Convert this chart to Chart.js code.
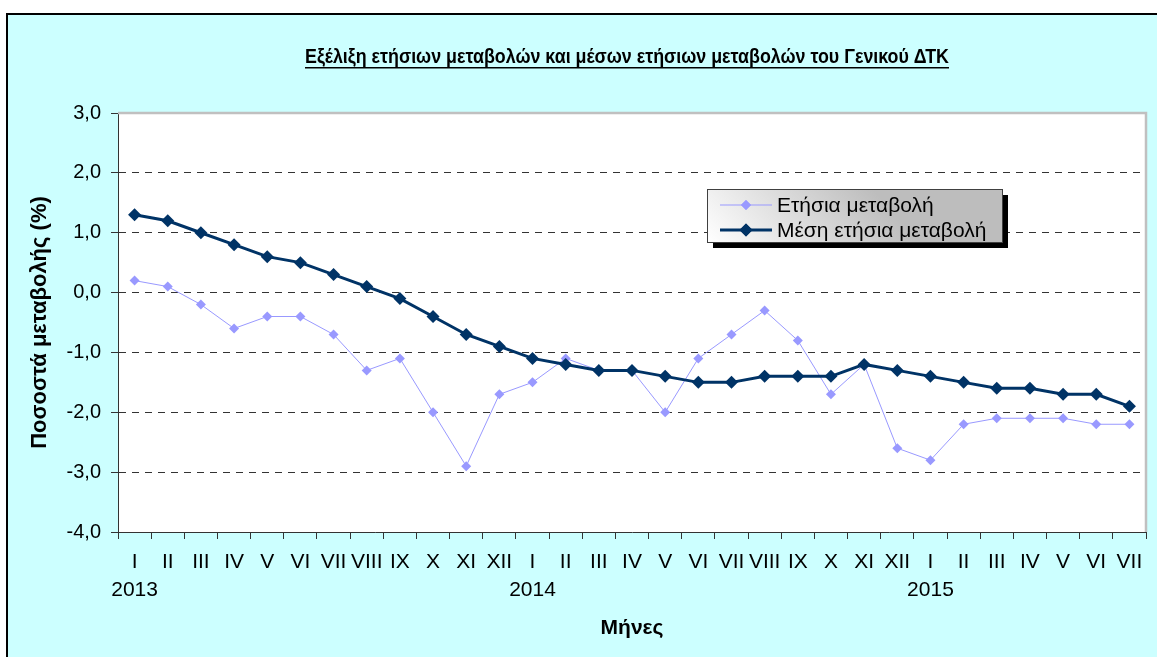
<!DOCTYPE html>
<html>
<head>
<meta charset="utf-8">
<title>ΔΤΚ</title>
<script src="https://cdn.jsdelivr.net/npm/chart.js@4.4.1/dist/chart.umd.min.js"></script>
<style>
  body { margin: 0; background: #fff; }
  #frame { position: absolute; left: 6px; top: 13px; width: 1200px; height: 700px;
           border: 2px solid #000; background: #ccffff; }
  #wrap { position: absolute; left: 0; top: 0; width: 1157px; height: 657px; }
</style>
</head>
<body>
<div id="frame"></div>
<div id="wrap"><canvas id="cpiChart" width="1157" height="657"></canvas></div>
<script>
// chart data
const chartTitle = "Εξέλιξη ετήσιων μεταβολών και μέσων ετήσιων μεταβολών του Γενικού ΔΤΚ";
const months = ["I","II","III","IV","V","VI","VII","VIII","IX","X","XI","XII",
                "I","II","III","IV","V","VI","VII","VIII","IX","X","XI","XII",
                "I","II","III","IV","V","VI","VII"];
const years = ["2013", "2014", "2015"];
const annualChange = [0.2, 0.1, -0.2, -0.6, -0.4, -0.4, -0.7, -1.3, -1.1, -2.0, -2.9, -1.7,
                      -1.5, -1.1, -1.3, -1.3, -2.0, -1.1, -0.7, -0.3, -0.8, -1.7, -1.2, -2.6,
                      -2.8, -2.2, -2.1, -2.1, -2.1, -2.2, -2.2];
const meanChange = [1.3, 1.2, 1.0, 0.8, 0.6, 0.5, 0.3, 0.1, -0.1, -0.4, -0.7, -0.9,
                    -1.1, -1.2, -1.3, -1.3, -1.4, -1.5, -1.5, -1.4, -1.4, -1.4, -1.2, -1.3,
                    -1.4, -1.5, -1.6, -1.6, -1.7, -1.7, -1.9];
const yMin = -4, yMax = 3;

// month label, with the year under every January
let yearIdx = 0;
const labels = months.map(m => m === "I" ? [m, years[yearIdx++]] : m);

Chart.defaults.font.family = '"Liberation Sans", Arial, sans-serif';
Chart.defaults.color = "#000";

// white plot area + grey frame top/right
const plotArea = {
    id: "plotArea",
    beforeDraw(chart) {
        const a = chart.chartArea, ctx = chart.ctx;
        ctx.save();
        ctx.fillStyle = "#fff";
        ctx.fillRect(a.left, a.top, a.right - a.left, a.bottom - a.top);
        ctx.restore();
    },
    afterDraw(chart) {
        const a = chart.chartArea, ctx = chart.ctx;
        ctx.save();
        ctx.strokeStyle = "#c0c0c0";
        ctx.lineWidth = 2.5;
        ctx.beginPath();
        ctx.moveTo(a.left, a.top);
        ctx.lineTo(a.right, a.top);
        ctx.lineTo(a.right, a.bottom);
        ctx.stroke();
        ctx.restore();
    }
};

// underlined title, squeezed like Arial Narrow
const titlePlugin = {
    id: "cpiTitle",
    afterDraw(chart) {
        const ctx = chart.ctx;
        const cx = 627, cy = 57, target = 644;
        ctx.save();
        ctx.font = 'bold 21px "Liberation Sans Narrow", "Liberation Sans", Arial';
        const w = ctx.measureText(chartTitle).width;
        ctx.translate(cx, cy);
        ctx.scale(target / w, 1);
        ctx.textAlign = "center";
        ctx.textBaseline = "middle";
        ctx.fillStyle = "#000";
        ctx.fillText(chartTitle, 0, 0);
        ctx.restore();
        ctx.fillStyle = "#000";
        ctx.fillRect(cx - target / 2, 67, target, 1.5);
    }
};

// boxed legend with shadow
const boxLegend = {
    id: "boxLegend",
    afterDraw(chart) {
        const ctx = chart.ctx;
        const x = 707, y = 189, w = 295, h = 53;
        ctx.save();
        ctx.fillStyle = "#000";
        ctx.fillRect(x + 6, y + 6, w, h);
        const g = ctx.createLinearGradient(x, y + h, x + w * 0.4, y - h);
        g.addColorStop(0, "#ffffff");
        g.addColorStop(1, "#bdbdbd");
        ctx.fillStyle = g;
        ctx.fillRect(x, y, w, h);
        ctx.strokeStyle = "#404040";
        ctx.lineWidth = 1;
        ctx.strokeRect(x + 0.5, y + 0.5, w, h);

        chart.data.datasets.forEach((ds, i) => {
            const ly = y + 16 + i * 25;
            ctx.strokeStyle = ds.borderColor;
            ctx.lineWidth = ds.borderWidth;
            ctx.beginPath();
            ctx.moveTo(x + 13, ly);
            ctx.lineTo(x + 65, ly);
            ctx.stroke();
            ctx.fillStyle = ds.pointBackgroundColor;
            Chart.helpers.drawPoint(ctx, { pointStyle: "rectRot", radius: ds.pointRadius, borderWidth: 0 }, x + 39, ly);
            ctx.fill();
            ctx.fillStyle = "#000";
            ctx.font = '21px "Liberation Sans", Arial';
            ctx.textBaseline = "middle";
            ctx.fillText(ds.label, x + 70, ly + 1);
        });
        ctx.restore();
    }
};

const ctx = document.getElementById("cpiChart").getContext("2d");
new Chart(ctx, {
    type: "line",
    data: {
        labels: labels,
        datasets: [
            {
                label: "Ετήσια μεταβολή",
                data: annualChange,
                borderColor: "#9999ff",
                backgroundColor: "#9999ff",
                pointBackgroundColor: "#9999ff",
                pointBorderColor: "#9999ff",
                borderWidth: 1,
                pointStyle: "rectRot",
                pointRadius: 5,
                pointBorderWidth: 0,
                tension: 0,
                order: 1
            },
            {
                label: "Μέση ετήσια μεταβολή",
                data: meanChange,
                borderColor: "#003366",
                backgroundColor: "#003366",
                pointBackgroundColor: "#003366",
                pointBorderColor: "#003366",
                borderWidth: 3,
                pointStyle: "rectRot",
                pointRadius: 6.5,
                pointBorderWidth: 0,
                tension: 0,
                order: 0
            }
        ]
    },
    options: {
        responsive: false,
        animation: false,
        layout: { padding: { left: 23, right: 11, top: 113, bottom: 12 } },
        plugins: {
            legend: { display: false },
            title: { display: false },
            tooltip: { enabled: false }
        },
        scales: {
            x: {
                offset: true,
                afterFit: s => { s.height = 113; },
                grid: {
                    offset: true,
                    drawOnChartArea: false,
                    tickLength: 7,
                    tickColor: "#333",
                    color: "#333"
                },
                border: { color: "#333", width: 1 },
                ticks: {
                    autoSkip: false,
                    maxRotation: 0,
                    minRotation: 0,
                    padding: 9,
                    font: { size: 21, lineHeight: 1.333 }
                },
                title: {
                    display: true,
                    text: "Μήνες",
                    font: { size: 21, weight: "bold" },
                    padding: { top: 4, bottom: 4 }
                }
            },
            y: {
                min: yMin,
                max: yMax,
                afterFit: s => { s.width = 95; },
                grid: {
                    color: c => (c.tick && (c.tick.value === yMin || c.tick.value === yMax)) ? "rgba(0,0,0,0)" : "#333",
                    tickColor: "#333",
                    tickLength: 7,
                    tickBorderDash: []
                },
                border: { color: "#333", width: 1, dash: [7, 6] },
                ticks: {
                    stepSize: 1,
                    padding: 10,
                    font: { size: 20 },
                    callback: v => v.toFixed(1).replace(".", ",")
                },
                title: {
                    display: true,
                    text: "Ποσοστά μεταβολής (%)",
                    font: { size: 22, weight: "bold" },
                    padding: { top: 4, bottom: 4 }
                }
            }
        }
    },
    plugins: [plotArea, titlePlugin, boxLegend]
});
</script>
</body>
</html>
